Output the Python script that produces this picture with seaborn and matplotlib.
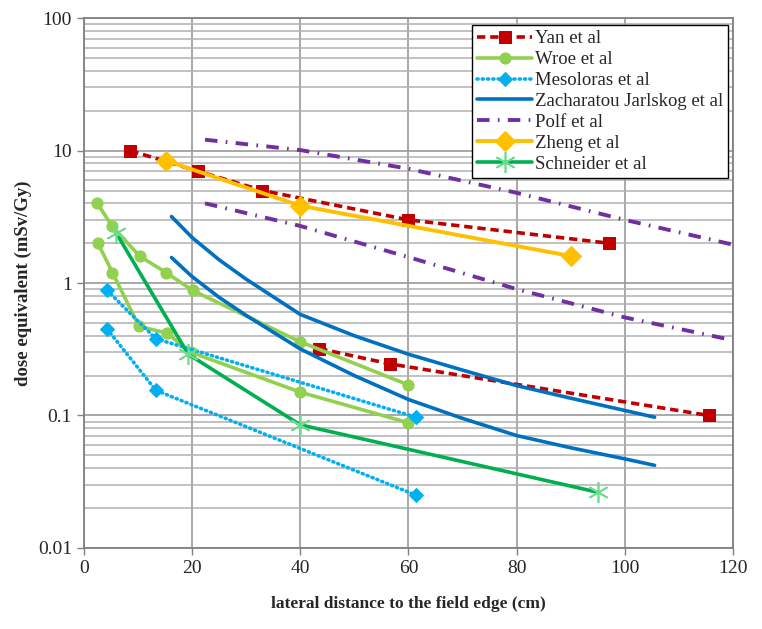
import numpy as np
import pandas as pd
import seaborn as sns
import matplotlib.pyplot as plt
from matplotlib.ticker import FixedLocator, LogLocator, NullFormatter

# values (x: cm, y: mSv/Gy); some studies have two curves
yan_x1 = [8.6, 21.1, 33.0, 60.0, 97.0]
yan_y1 = [10.0, 7.0, 5.0, 3.0, 2.0]
yan_x2 = [43.5, 56.6, 115.5]
yan_y2 = [0.32, 0.245, 0.10]

wroe_x1 = [2.5, 5.2, 10.3, 15.2, 20.1, 40.0, 60.0]
wroe_y1 = [4.0, 2.7, 1.6, 1.2, 0.88, 0.36, 0.17]
wroe_x2 = [2.6, 5.3, 10.2, 15.3, 19.8, 40.0, 60.0]
wroe_y2 = [2.0, 1.2, 0.47, 0.42, 0.30, 0.15, 0.088]

meso_x1 = [4.3, 13.3, 61.4]
meso_y1 = [0.88, 0.38, 0.097]
meso_x2 = [4.3, 13.3, 61.4]
meso_y2 = [0.45, 0.155, 0.025]

zach_x = [16.2, 20, 25, 30, 40, 50, 60, 70, 80, 90, 100, 105.5]
zach_y1 = [3.18, 2.21, 1.5, 1.07, 0.58, 0.40, 0.29, 0.22, 0.168, 0.135, 0.109, 0.097]
zach_y2 = [1.56, 1.12, 0.78, 0.57, 0.318, 0.20, 0.132, 0.095, 0.0705, 0.057, 0.047, 0.042]

polf_x = [22.4, 40, 60, 80, 100, 120]
polf_y1 = [12.1, 10.1, 7.3, 4.8, 3.0, 1.95]
polf_y2 = [4.0, 2.7, 1.57, 0.9, 0.55, 0.37]

zheng_x = [15.2, 40.0, 90.0]
zheng_y = [8.4, 3.84, 1.6]

schn_x = [6.0, 19.3, 40.0, 95.0]
schn_y = [2.38, 0.29, 0.085, 0.0263]

sns.set_style("ticks")
plt.rcParams['font.family'] = ['Liberation Serif', 'DejaVu Serif']
plt.rcParams['lines.scale_dashes'] = False

fig = plt.figure(figsize=(7.62, 6.29), dpi=100)
ax = fig.add_axes([0.110, 0.129, 0.852, 0.842])

def draw(x, y, label=None, **kw):
    df = pd.DataFrame({'x': x, 'y': y})
    sns.lineplot(data=df, x='x', y='y', ax=ax, sort=False, estimator=None,
                 label=label, legend=bool(label), **kw)

red, lgreen, cyan = '#C00000', '#92D050', '#00B0F0'
blue, purple, orange, green = '#0070C0', '#7030A0', '#FFC000', '#00B050'

yan_kw = dict(color=red, lw=2.6, linestyle=(0, (6, 3.5)), marker='s', markersize=9,
              markeredgecolor=red)
draw(yan_x1, yan_y1, 'Yan et al', **yan_kw)
draw(yan_x2, yan_y2, **yan_kw)

wroe_kw = dict(color=lgreen, lw=2.6, linestyle='-', marker='o', markersize=8,
               markeredgecolor=lgreen)
draw(wroe_x1, wroe_y1, 'Wroe et al', **wroe_kw)
draw(wroe_x2, wroe_y2, **wroe_kw)

meso_kw = dict(color=cyan, lw=2.6, linestyle=(0, (0.8, 3.0)), dash_capstyle='round',
               marker='D', markersize=7, markeredgecolor=cyan)
draw(meso_x1, meso_y1, 'Mesoloras et al', **meso_kw)
draw(meso_x2, meso_y2, **meso_kw)

zach_kw = dict(color=blue, lw=2.6, linestyle='-')
draw(zach_x, zach_y1, 'Zacharatou Jarlskog et al', **zach_kw)
draw(zach_x, zach_y2, **zach_kw)

polf_kw = dict(color=purple, lw=2.8, linestyle=(0, (9, 6, 1.2, 6)))
draw(polf_x, polf_y1, 'Polf et al', **polf_kw)
draw(polf_x, polf_y2, **polf_kw)

draw(zheng_x, zheng_y, 'Zheng et al', color=orange, lw=2.8, linestyle='-',
     marker='D', markersize=10, markeredgecolor=orange)

draw(schn_x, schn_y, 'Schneider et al', color=green, lw=2.6, linestyle='-',
     marker=(6, 2, 0), markersize=15, markeredgecolor='#6CDB8A', markeredgewidth=1.2)

ax.set_yscale('log')
ax.set_xlim(0, 120)
ax.set_ylim(0.01, 100)
ax.set_xticks([0, 20, 40, 60, 80, 100, 120])
ax.yaxis.set_major_locator(FixedLocator([0.01, 0.1, 1, 10, 100]))
ax.set_yticklabels(['0.01', '0.1', '1', '10', '100'])
ax.yaxis.set_minor_locator(LogLocator(base=10, subs=np.arange(2, 10)))
ax.yaxis.set_minor_formatter(NullFormatter())
ax.tick_params(axis='both', which='major', labelsize=14, length=5, width=1,
               color='#808080', direction='out')
ax.tick_params(axis='y', which='minor', length=0)

ax.grid(True, which='major', axis='both', color='#9A9A9A', lw=1.2)
ax.grid(True, which='minor', axis='y', color='#B0B0B0', lw=1.1)
ax.set_axisbelow(True)
for s in ax.spines.values():
    s.set_color('#808080')
    s.set_linewidth(1.3)

ax.set_xlabel('lateral distance to the field edge (cm)', fontsize=12.5,
              fontweight='bold', labelpad=14)
ax.set_ylabel('dose equivalent (mSv/Gy)', fontsize=13.5, fontweight='bold',
              labelpad=4)

leg = ax.legend(loc='upper right', bbox_to_anchor=(0.993, 0.988), borderaxespad=0,
                fontsize=13.5, handlelength=2.9, handletextpad=0.15,
                labelspacing=0.2, borderpad=0.3, fancybox=False, framealpha=1)
leg.get_frame().set_edgecolor('black')
leg.get_frame().set_linewidth(1.0)

plt.savefig('out.png', dpi=100)
